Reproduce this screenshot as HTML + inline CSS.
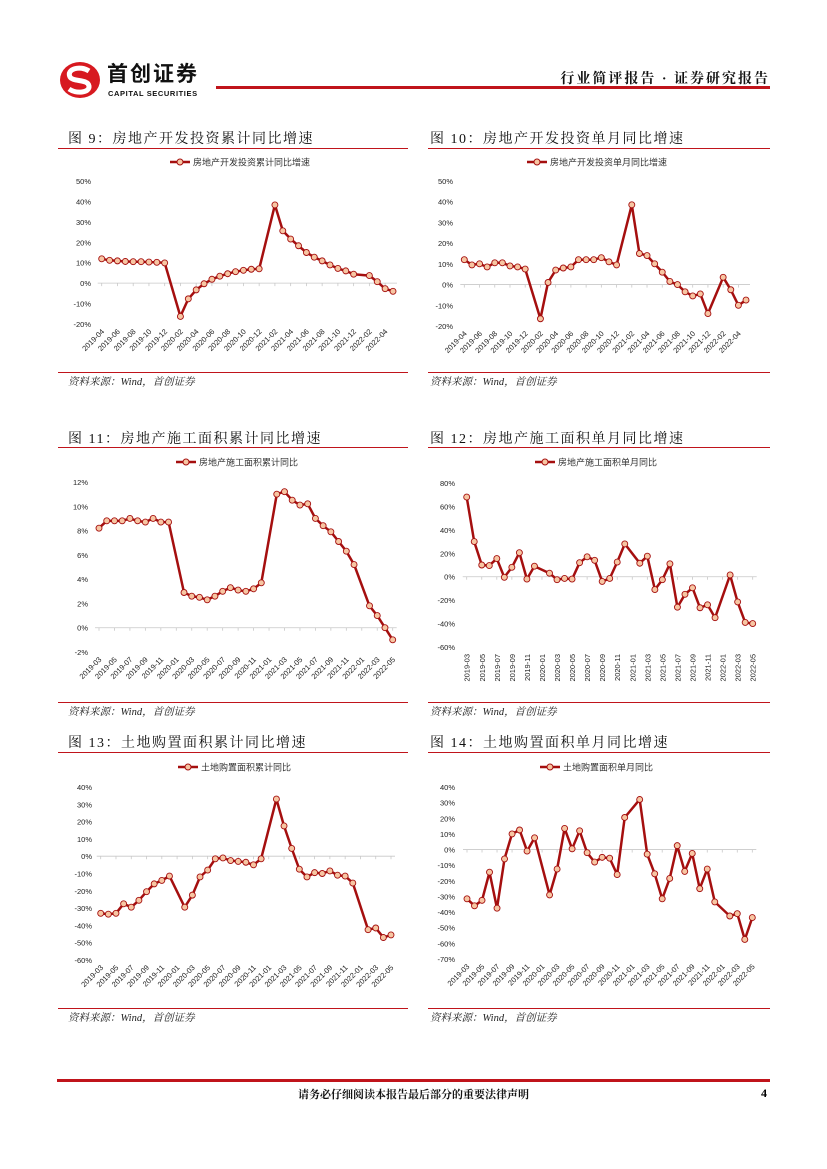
<!DOCTYPE html>
<html><head><meta charset="utf-8">
<style>
body{margin:0;background:#fff;}
#page{position:relative;width:827px;height:1169px;overflow:hidden;background:#fff;font-family:"Liberation Sans","Noto Sans CJK SC",sans-serif;}
.abs{position:absolute;}
.title{font-family:"Liberation Serif","Noto Serif CJK SC",serif;font-size:14px;color:#111;white-space:nowrap;letter-spacing:1.5px;}
.src{font-family:"Liberation Serif","Noto Serif CJK SC",serif;font-size:10.5px;font-style:italic;color:#222;white-space:nowrap;}
.rl{position:absolute;height:1px;background:#c0141b;}
</style></head>
<body>
<div id="page">
  <svg class="abs" style="left:58px;top:60px" width="44" height="40">
    <ellipse cx="22" cy="20" rx="20" ry="18" fill="#d71920"/>
    <path d="M31 11 C22 5 8 9 12 17 C15 22 30 19 31 26 C32 33 18 34 11 29" stroke="#fff" stroke-width="5" fill="none"/>
  </svg>
  <div class="abs" style="left:107px;top:63px;font-size:21px;line-height:24px;font-weight:bold;color:#111;letter-spacing:2px;white-space:nowrap">首创证券</div>
  <div class="abs" style="left:108px;top:89px;font-size:7.5px;line-height:9px;font-weight:bold;color:#111;white-space:nowrap;letter-spacing:0.6px">CAPITAL SECURITIES</div>
  <div class="abs" style="left:216px;top:86px;width:554px;height:3px;background:#c0141b"></div>
  <div class="abs" style="right:57px;top:68px;font-size:14px;font-weight:bold;color:#111;white-space:nowrap;letter-spacing:2px;font-family:'Liberation Serif','Noto Serif CJK SC',serif">行业简评报告 · 证券研究报告</div>

  <div class="abs title" style="left:68px;top:128px">图 9：房地产开发投资累计同比增速</div>
  <div class="abs title" style="left:430px;top:128px">图 10：房地产开发投资单月同比增速</div>
  <div class="rl" style="left:58px;top:148px;width:350px"></div>
  <div class="rl" style="left:428px;top:148px;width:342px"></div>
  <div class="rl" style="left:58px;top:372px;width:350px"></div>
  <div class="rl" style="left:428px;top:372px;width:342px"></div>
  <div class="abs src" style="left:68px;top:374px">资料来源：Wind，首创证券</div>
  <div class="abs src" style="left:430px;top:374px">资料来源：Wind，首创证券</div>

  <div class="abs title" style="left:68px;top:428px">图 11：房地产施工面积累计同比增速</div>
  <div class="abs title" style="left:430px;top:428px">图 12：房地产施工面积单月同比增速</div>
  <div class="rl" style="left:58px;top:447px;width:350px"></div>
  <div class="rl" style="left:428px;top:447px;width:342px"></div>
  <div class="rl" style="left:58px;top:702px;width:350px"></div>
  <div class="rl" style="left:428px;top:702px;width:342px"></div>
  <div class="abs src" style="left:68px;top:704px">资料来源：Wind，首创证券</div>
  <div class="abs src" style="left:430px;top:704px">资料来源：Wind，首创证券</div>

  <div class="abs title" style="left:68px;top:732px">图 13：土地购置面积累计同比增速</div>
  <div class="abs title" style="left:430px;top:732px">图 14：土地购置面积单月同比增速</div>
  <div class="rl" style="left:58px;top:752px;width:350px"></div>
  <div class="rl" style="left:428px;top:752px;width:342px"></div>
  <div class="rl" style="left:58px;top:1008px;width:350px"></div>
  <div class="rl" style="left:428px;top:1008px;width:342px"></div>
  <div class="abs src" style="left:68px;top:1010px">资料来源：Wind，首创证券</div>
  <div class="abs src" style="left:430px;top:1010px">资料来源：Wind，首创证券</div>

  <div class="abs" style="left:57px;top:1079px;width:713px;height:3px;background:#c0141b"></div>
  <div class="abs" style="left:0;width:827px;top:1086px;text-align:center;font-size:11px;font-weight:bold;color:#111;font-family:'Liberation Serif','Noto Serif CJK SC',serif">请务必仔细阅读本报告最后部分的重要法律声明</div>
  <div class="abs" style="left:761px;top:1086px;font-size:12px;font-weight:bold;font-family:'Liberation Serif',serif">4</div>

  <svg id="charts" class="abs" style="left:0;top:0" width="827" height="1169"></svg>
</div>
<script>
const c1Labels=["2019-04","2019-06","2019-08","2019-10","2019-12","2020-02","2020-04","2020-06","2020-08","2020-10","2020-12","2021-02","2021-04","2021-06","2021-08","2021-10","2021-12","2022-02","2022-04"];
const c1Values=[11.9,11.2,10.9,10.6,10.5,10.5,10.3,10.2,9.9,null,-16.3,-7.7,-3.3,-0.3,1.9,3.4,4.6,5.6,6.3,6.8,7.0,null,38.3,25.6,21.6,18.3,15.0,12.7,10.9,8.9,7.2,6.0,4.4,null,3.7,0.7,-2.7,-4.0];
const c1Ticks=[50,40,30,20,10,0,-10,-20];
const c2Values=[12,9.5,10,8.5,10.5,10.5,9,8.5,7.5,null,-16.5,1,7,8,8.5,12,12,12,13,11,9.5,null,38.5,15,14,10,6,1.5,0,-3.5,-5.5,-4.5,-14,null,3.5,-2.5,-10,-7.5];
const c2Labels=c1Labels;
const c2Ticks=c1Ticks;
const c3Labels=["2019-03","2019-05","2019-07","2019-09","2019-11","2020-01","2020-03","2020-05","2020-07","2020-09","2020-11","2021-01","2021-03","2021-05","2021-07","2021-09","2021-11","2022-01","2022-03","2022-05"];
const c3Values=[8.2,8.8,8.8,8.8,9.0,8.8,8.7,9.0,8.7,8.7,null,2.9,2.6,2.5,2.3,2.6,3.0,3.3,3.1,3.0,3.2,3.7,null,11.0,11.2,10.5,10.1,10.2,9.0,8.4,7.9,7.1,6.3,5.2,null,1.8,1.0,0,-1.0];
const c3Ticks=[12,10,8,6,4,2,0,-2];
const c4Labels=c3Labels;
const c4Values=[68,30,10,9.5,15.5,-0.5,8,20.5,-2,9,null,3,-2.5,-1.5,-2,12,17,14,-4,-1.5,12.5,28,null,11.5,17.5,-11,-2.5,11,-26,-15,-9.5,-26.5,-24,-35,null,1.5,-21.5,-39,-40];
const c4Ticks=[80,60,40,20,0,-20,-40,-60];
const c5Labels=c3Labels;
const c5Values=[-33,-33.5,-33,-27.5,-29.5,-25.5,-20.5,-16,-14,-11.5,null,-29.5,-22.5,-12,-8,-1.5,-1,-2.5,-3,-3.5,-5,-1.5,null,33,17.5,4.5,-7.5,-12,-9.5,-10,-8.5,-11,-11.5,-15.5,null,-42.5,-41.5,-47,-45.5];
const c5Ticks=[40,30,20,10,0,-10,-20,-30,-40,-50,-60];
const c6Labels=c3Labels;
const c6Values=[-31.5,-36,-32.5,-14.5,-37.5,-6,10,12.5,-1,7.5,null,-29,-12.5,13.5,0.5,12,-2,-8,-5,-5.5,-16,20.5,null,32,-3,-15.5,-31.5,-18.5,2.5,-14,-2.5,-25,-12.5,-33.5,null,-42.5,-41,-57.5,-43.5];
const c6Ticks=[40,30,20,10,0,-10,-20,-30,-40,-50,-60,-70];

const NS="http://www.w3.org/2000/svg";
const root=document.getElementById('charts');
function mk(tag,attrs,parent){const e=document.createElementNS(NS,tag);for(const k in attrs)e.setAttribute(k,attrs[k]);parent.appendChild(e);return e;}

function chart(id,cfg,labels,values,ticks,legend){
  const g=mk('g',{},root);
  
  
  const n=values.length, yMax=ticks[0], yMin=ticks[ticks.length-1];
  const xs=i=>cfg.x0+(cfg.x1-cfg.x0)*i/(n-1);
  const ys=v=>cfg.yTop+(cfg.yBot-cfg.yTop)*(yMax-v)/(yMax-yMin);
  const lg=mk('g',{},g);
  
  
  mk('line',{x1:cfg.lx,y1:cfg.ly,x2:cfg.lx+20,y2:cfg.ly,stroke:'#a50f0f','stroke-width':2.5},lg);
  mk('circle',{cx:cfg.lx+10,cy:cfg.ly,r:3,fill:'#f7c6a3',stroke:'#a50f0f','stroke-width':1},lg);
  const lt=mk('text',{x:cfg.lx+23,y:cfg.ly+3.5,'font-size':9,fill:'#333','font-family':'"Liberation Sans","Noto Sans CJK SC",sans-serif'},lg);
  lt.textContent=legend;
  ticks.forEach(t=>{
    const tx=mk('text',{x:cfg.yl,y:ys(t)+3,'text-anchor':'end','font-size':7.5,fill:'#222','font-family':'"Liberation Sans",sans-serif'},g);
    
    
    tx.textContent=t+'%';
  });
  const z=ys(0);
  const ax=mk('line',{x1:cfg.x0-4,y1:z,x2:cfg.x1+4,y2:z,stroke:'#c8c8c8','stroke-width':0.8},g);
  
  
  labels.forEach((lab,k)=>{
    const i=k*2, x=xs(i);
    mk('line',{x1:x,y1:z,x2:x,y2:z+3,stroke:'#c8c8c8','stroke-width':0.8},g);
    const rot=cfg.vertical?-90:-45;
    const tx=mk('text',{x:0,y:0,'text-anchor':'end','font-size':7.5,fill:'#222','font-family':'"Liberation Sans",sans-serif',transform:`translate(${x+3},${cfg.xly}) rotate(${rot})`},g);
    
    
    tx.textContent=lab;
  });
  let d='';
  values.forEach((v,i)=>{if(v===null)return;d+=(d?'L':'M')+xs(i).toFixed(1)+' '+ys(v).toFixed(1);});
  const p=mk('path',{d:d,fill:'none',stroke:'#a50f0f','stroke-width':2.5,'stroke-linejoin':'round'},g);
  
  
  values.forEach((v,i)=>{
    if(v===null)return;
    const c=mk('circle',{cx:xs(i),cy:ys(v),r:3,fill:'#f7c6a3',stroke:'#a50f0f','stroke-width':0.9},g);
    
    
  });
}
chart('chart-fig9',{x0:101.7,x1:393,yTop:181,yBot:324,yl:91,lx:170,ly:162,xly:332},c1Labels,c1Values,c1Ticks,'房地产开发投资累计同比增速');
chart('chart-fig10',{x0:464.3,x1:746,yTop:181,yBot:326,yl:453,lx:527,ly:162,xly:334},c2Labels,c2Values,c2Ticks,'房地产开发投资单月同比增速');
chart('chart-fig11',{x0:99,x1:392.7,yTop:482,yBot:652,yl:88,lx:176,ly:462,xly:660},c3Labels,c3Values,c3Ticks,'房地产施工面积累计同比');
chart('chart-fig12',{x0:466.7,x1:752.7,yTop:483,yBot:647,yl:455,lx:535,ly:462,xly:654,vertical:true},c4Labels,c4Values,c4Ticks,'房地产施工面积单月同比');
chart('chart-fig13',{x0:100.7,x1:391,yTop:787,yBot:960,yl:92,lx:178,ly:767,xly:968},c5Labels,c5Values,c5Ticks,'土地购置面积累计同比');
chart('chart-fig14',{x0:467,x1:752.3,yTop:787,yBot:959,yl:455,lx:540,ly:767,xly:967},c6Labels,c6Values,c6Ticks,'土地购置面积单月同比');
</script>
</body></html>
